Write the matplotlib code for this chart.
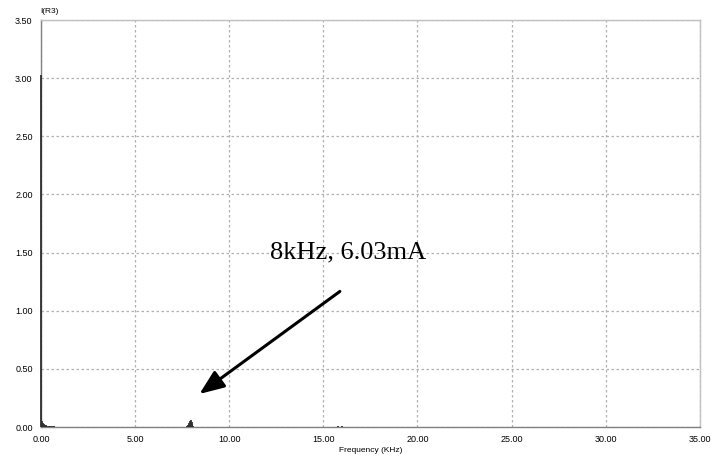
import matplotlib
matplotlib.use("Agg")
import matplotlib.pyplot as plt
import numpy as np

# Spectrum data (kHz, A)
freq_low = [0.0, 0.05, 0.1, 0.15, 0.2, 0.25, 0.3, 0.4, 0.5, 0.6, 0.7, 0.8, 0.9, 1.0]
amp_low = [3.03, 0.05, 0.035, 0.025, 0.02, 0.015, 0.012, 0.01, 0.008, 0.006, 0.005, 0.004, 0.004, 0.003]
freq_8k = [7.75, 7.8, 7.85, 7.9, 7.95, 8.0, 8.05, 8.1]
amp_8k = [0.01, 0.02, 0.035, 0.05, 0.06, 0.045, 0.025, 0.01]
freq_16k = [15.7, 15.8, 15.9, 16.0, 16.1]
amp_16k = [0.004, 0.005, 0.004, 0.005, 0.004]

xticks = [0, 5, 10, 15, 20, 25, 30, 35]
yticks = [0, 0.5, 1.0, 1.5, 2.0, 2.5, 3.0, 3.5]

annot_text = "8kHz, 6.03mA"
annot_xy = (8.3, 0.27)
annot_text_xy = (16.0, 1.18)
annot_label_pos = (12.15, 1.505)

fig = plt.figure(figsize=(7.14, 4.59), dpi=100)
ax = fig.add_axes([0.0574, 0.0697, 0.9226, 0.8867])

f = np.array(freq_low + freq_8k + freq_16k)
a = np.array(amp_low + amp_8k + amp_16k)
ax.vlines(f, 0, a, color="#303030", linewidth=1.3, zorder=5, clip_on=False)

ax.set_xlim(0, 35)
ax.set_ylim(0, 3.5)
ax.set_xticks(xticks)
ax.set_yticks(yticks)
ax.set_xticklabels([f"{v:.2f}" for v in xticks], fontsize=6.5, family="Liberation Sans")
ax.set_yticklabels([f"{v:.2f}" for v in yticks], fontsize=6.5, family="Liberation Sans")
ax.tick_params(length=0, pad=6)
ax.grid(True, color="#b0b0b0", linestyle=(0, (2, 2)), linewidth=0.9)
ax.set_axisbelow(True)

for s in ["left", "bottom"]:
    ax.spines[s].set_color("#808080")
    ax.spines[s].set_linewidth(1.0)
for s in ["top", "right"]:
    ax.spines[s].set_color("#c0c0c0")
    ax.spines[s].set_linewidth(1.0)

ax.set_xlabel("Frequency (KHz)", fontsize=6, family="Liberation Sans", labelpad=2)
fig.text(0.056, 0.975, "I(R3)", fontsize=6, family="Liberation Sans", ha="left", va="center")

ax.annotate("", xy=annot_xy, xytext=annot_text_xy,
            arrowprops=dict(arrowstyle="-|>,head_length=1.5,head_width=0.6", color="black", lw=2.2))
ax.text(annot_label_pos[0], annot_label_pos[1], annot_text, fontsize=19,
        family="Liberation Serif", ha="left", va="center")

fig.savefig("out.png", dpi=100)
